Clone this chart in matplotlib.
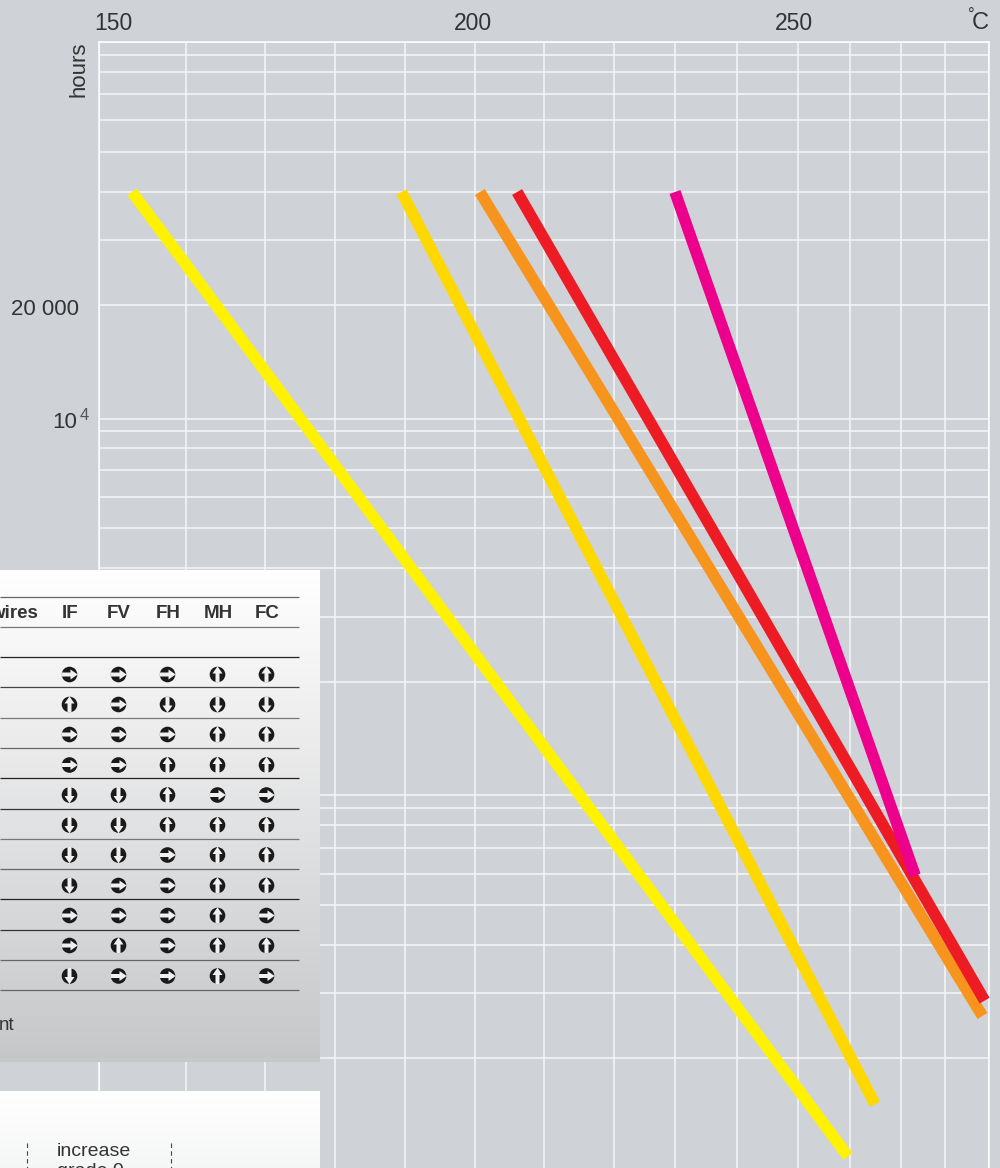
import numpy as np
import matplotlib
matplotlib.use("Agg")
import matplotlib.pyplot as plt
from matplotlib.patches import Circle, Polygon
from matplotlib.ticker import NullFormatter, FixedLocator, FixedFormatter
from matplotlib.transforms import ScaledTranslation

plt.rcParams['font.family'] = ['Liberation Sans', 'DejaVu Sans']

# ---- data ----
grid_temps = [150, 160, 170, 180, 190, 200, 210, 220, 230, 240, 250, 260, 270, 280, 290]
grid_hours = [100000, 90000, 80000, 70000, 60000, 50000, 40000, 30000, 20000, 10000,
              9000, 8000, 7000, 6000, 5000, 4000, 3000, 2000, 1000,
              900, 800, 700, 600, 500, 400, 300, 200, 100]
yellow_t = [153.8, 259.6]
yellow_h = [40000, 110]
gold_t = [189.5, 264.9]
gold_h = [40000, 151]
orange_t = [200.7, 288.5]
orange_h = [40000, 260]
red_t = [206.1, 289.0]
red_h = [40000, 286]
magenta_t = [230.0, 273.2]
magenta_h = [40000, 595]
header_cols = ["IF", "FV", "FH", "MH", "FC"]
rows = ["RRRUU", "URDDD", "RRRUU", "RRUUU", "DDURR", "DDUUU",
        "DDRUU", "DRRUU", "RRRUR", "RURUU", "DRRUR"]

# ---- scale calibration (pixel layout of the printed nomogram) ----
W, H = 1000, 1168
x_px = np.array([99, 186, 265, 335, 405, 475, 544, 614, 675, 737, 798, 850, 901, 945, 989], float)
y_px = np.array([42, 54.5, 71.5, 94, 120, 152, 192, 239.5, 305, 419,
                 431, 448, 470, 497, 528, 568, 616.5, 681.5, 795,
                 808, 825, 848, 874, 905, 945, 993, 1058, 1172], float)
tt = np.array(grid_temps, float)
lh = np.log10(np.array(grid_hours, float))

def xf(t):
    return np.interp(t, tt, x_px)
def xi(p):
    return np.interp(p, x_px, tt)
def yf(h):
    v = np.log10(np.clip(h, 1e-3, None))
    return -np.interp(v, lh[::-1], y_px[::-1])
def yi(p):
    return 10 ** np.interp(-np.asarray(p), -y_px[::-1], lh[::-1])

BG = '#cfd3d7'
fig = plt.figure(figsize=(W / 100, H / 100), dpi=100, facecolor=BG)
ax = fig.add_axes([99 / W, 1 - 1172 / H, (989 - 99) / W, (1172 - 42) / H], facecolor=BG)
ax.set_xscale('function', functions=(xf, xi))
ax.set_yscale('function', functions=(yf, yi))
ax.set_xlim(150, 290)
ax.set_ylim(100, 100000)
for s in ax.spines.values():
    s.set_color('white')
    s.set_linewidth(1.1)

ax.xaxis.set_major_locator(FixedLocator([150, 200, 250]))
ax.xaxis.set_major_formatter(FixedFormatter(['150', '200', '250']))
ax.xaxis.set_minor_locator(FixedLocator(grid_temps))
ax.xaxis.set_minor_formatter(NullFormatter())
ax.yaxis.set_major_locator(FixedLocator([20000, 10000]))
ax.yaxis.set_major_formatter(FixedFormatter(['20 000', '10']))
ax.yaxis.set_minor_locator(FixedLocator(grid_hours))
ax.yaxis.set_minor_formatter(NullFormatter())
ax.grid(True, which='both', color='#f4f5f6', lw=1.1)
ax.tick_params(which='both', length=0)
ax.tick_params(axis='x', top=False, labeltop=True, bottom=False, labelbottom=False,
               labelsize=16.5, labelcolor='#333333', pad=5)
ax.tick_params(axis='y', labelsize=16, labelcolor='#333333', pad=14)
ax.set_axisbelow(True)
for lab, dx in zip(ax.get_xticklabels(), [14, -2, -4]):
    lab.set_transform(lab.get_transform() + ScaledTranslation(dx / 100, 0, fig.dpi_scale_trans))
for lab, (dx, dy) in zip(ax.get_yticklabels(), [(-1, -2), (-2, -1)]):
    lab.set_transform(lab.get_transform() + ScaledTranslation(dx / 100, dy / 100, fig.dpi_scale_trans))

series = [(yellow_t, yellow_h, '#fff200'), (gold_t, gold_h, '#ffd800'),
          (orange_t, orange_h, '#f7941d'), (red_t, red_h, '#ed1c24'),
          (magenta_t, magenta_h, '#ec008c')]
for t, h, c in series:
    ax.plot(t, h, color=c, lw=8.3, solid_capstyle='butt', clip_on=False, zorder=3)

# ---- overlay in pixel coordinates ----
ov = fig.add_axes([0, 0, 1, 1], facecolor='none')
TXT = '#333333'
ov.text(79, 69, 'hours', rotation=90, ha='center', va='center', fontsize=16, color=TXT)
ov.text(980, 23, 'C', ha='center', va='center', fontsize=17, color=TXT)
ov.text(971, 15, '°', ha='center', va='center', fontsize=12, color=TXT)
ov.text(80, 415, '4', ha='left', va='center', fontsize=12, color='#555555')

def vgrad(y0, y1, c0, c1):
    g = np.linspace(0, 1, 256)[:, None]
    a, b = matplotlib.colors.to_rgb(c0), matplotlib.colors.to_rgb(c1)
    img = np.dstack([a[i] + (b[i] - a[i]) * g for i in range(3)])
    ov.imshow(img, extent=[0, 320, y1, y0], aspect='auto', zorder=5, interpolation='bilinear')

vgrad(570, 1062, '#ffffff', '#c6c7c9')
vgrad(1091, 1200, '#ffffff', '#f1f2f2')
ov.set_xlim(0, W)
ov.set_ylim(H, 0)
ov.axis('off')

rule_y = [597, 627, 657, 687, 718, 748, 778, 809, 839, 869, 899, 930, 960, 990]
rule_c = ['#666666', '#777777', '#222222', '#444444', '#777777', '#666666', '#222222',
          '#333333', '#777777', '#666666', '#222222', '#333333', '#666666', '#666666']
for y, c in zip(rule_y, rule_c):
    ov.plot([0, 299], [y, y], color=c, lw=0.9, zorder=6, solid_capstyle='butt')

col_x = [69.5, 118.5, 167.5, 217.5, 266.5]
row_y = [674.5, 704.5, 734.5, 765, 795, 825, 855, 885.5, 915.5, 945.5, 976]
ov.text(37.5, 613, 'wires', ha='right', va='center', fontsize=13.5, fontweight='bold', color=TXT, zorder=7)
for x, name in zip(col_x, header_cols):
    ov.text(x + 0.5, 613, name, ha='center', va='center', fontsize=13.5, fontweight='bold', color=TXT, zorder=7)

ARROW = np.array([[-2.0, 8], [2.0, 8], [2.0, -1.0], [5.0, -1.0], [0, -8.2], [-5.0, -1.0], [-2.0, -1.0]])
ANG = {'U': 0, 'R': 90, 'D': 180}
for y, row in zip(row_y, rows):
    for x, d in zip(col_x, row):
        ov.add_patch(Circle((x, y), 7.8, fc='#1a1a1a', ec='none', zorder=7))
        a = np.deg2rad(ANG[d])
        R = np.array([[np.cos(a), -np.sin(a)], [np.sin(a), np.cos(a)]])
        ov.add_patch(Polygon(ARROW @ R.T + [x, y], closed=True, fc='#f0f0f0', ec='none', zorder=8))

ov.text(14, 1025, 'nt', ha='right', va='center', fontsize=13.5, color=TXT, zorder=7)
ov.text(57, 1151, 'increase', ha='left', va='center', fontsize=14, color=TXT, zorder=7)
ov.text(57, 1171, 'grade 0', ha='left', va='center', fontsize=14, color=TXT, zorder=7)
for x in [27, 171]:
    ov.plot([x, x], [1143, 1168], color='#444444', lw=0.8, ls=(0, (4, 3)), zorder=7)

fig.savefig('out.png', dpi=100, facecolor=BG)
